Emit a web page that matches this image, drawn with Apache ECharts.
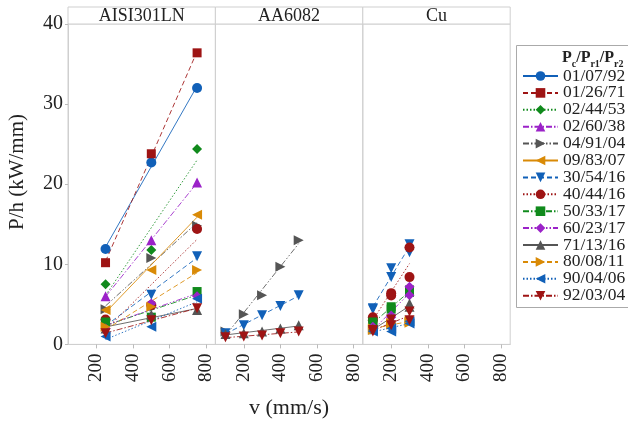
<!DOCTYPE html>
<html>
<head>
<meta charset="utf-8">
<script src="https://cdn.jsdelivr.net/npm/echarts@6/dist/echarts.min.js"></script>
<style>
  html, body { margin: 0; padding: 0; background: #fff; }
  #chart { width: 628px; height: 421px; }
</style>
</head>
<body>
<div id="chart"></div>
<script>
// panels (materials)
var materials = ['AISI301LN', 'AA6082', 'Cu'];
// legend entries Pc/Pr1/Pr2
var labels = ['01/07/92', '01/26/71', '02/44/53', '02/60/38', '04/91/04', '09/83/07', '30/54/16',
              '40/44/16', '50/33/17', '60/23/17', '71/13/16', '80/08/11', '90/04/06', '92/03/04'];

// speeds for each panel
var vAISI = [250, 500, 750];
var vAA = [100, 200, 300, 400, 500];
var vCu = [100, 100, 200, 200, 300, 300];

// P/h values, one row per legend entry (null = not measured)
var pAISI = [
  [11.9, 22.7, 32.0],
  [10.2, 23.8, 36.4],
  [7.5, 11.8, 24.4],
  [6.0, 13.0, 20.2],
  [4.4, 10.8, 14.8],
  [4.3, 9.3, 16.2],
  [2.5, 6.2, 11.0],
  [3.1, 4.9, 14.4],
  [2.8, 3.4, 6.6],
  [2.0, 5.1, 6.0],
  [2.0, 3.7, 4.3],
  [2.2, 4.7, 9.3],
  [1.0, 2.2, 5.7],
  [1.4, 3.0, 4.5]
];
var pAA = [
  null, null, null, null,
  [1.6, 3.75, 6.15, 9.7, 13.0],
  null,
  [1.4, 2.4, 3.65, 4.8, 6.15],
  null, null, null,
  [1.3, 1.4, 1.6, 2.0, 2.4],
  null, null,
  [0.9, 1.0, 1.1, 1.4, 1.6]
];
var pCu = [
  null, null, null, null, null, null,
  [4.4, 4.5, 9.5, 8.4, 12.5, 11.5],
  [3.4, 3.0, 6.4, 6.1, 12.1, 8.4],
  [2.6, 2.8, 4.7, 4.4, 6.8, 6.5],
  [2.0, 2.2, 3.6, 3.4, 7.2, 6.15],
  [1.9, 2.0, 3.0, 3.2, 5.1, 4.7],
  [1.8, 2.0, 2.7, 2.5, 2.9, 2.7],
  [1.6, 1.8, 1.6, 2.0, 2.9, 2.6],
  [1.8, 1.6, 3.1, 2.4, 4.1, 3.0]
];
var xTicks = [200, 400, 600, 800];

// styles cycle like the original plot
var palette = ['#1160b8', '#9e1414', '#108a1c', '#9b22c8', '#555555', '#d98a06'];
var dashes = ['solid', [5, 3], [1.5, 2], [6, 2, 1.5, 2], [6, 2, 1.5, 2, 1.5, 2]];
var symbols = ['circle', 'rect', 'diamond', 'triangle',
               'path://M0,0L2,1L0,2Z', 'path://M2,0L0,1L2,2Z', 'path://M0,0L2,0L1,2Z'];

var font = 'Liberation Serif';
var left0 = 68, panelW = 147.4, top0 = 24, plotH = 320.4;

var grids = [], xAxes = [], yAxes = [];
materials.forEach(function (m, k) {
  grids.push({ left: left0 + k * panelW, top: top0, width: panelW, height: plotH,
               show: true, borderColor: '#cfcfcf', borderWidth: 1 });
  xAxes.push({
    gridIndex: k, type: 'value', min: 45, max: 850,
    axisLine: { lineStyle: { color: '#cfcfcf' } },
    axisTick: { show: true, length: 4, lineStyle: { color: '#bbb' }, customValues: xTicks },
    axisLabel: { rotate: 90, margin: 9, fontFamily: font, fontSize: 19, color: '#222', customValues: xTicks },
    splitLine: { show: false }
  });
  yAxes.push({
    gridIndex: k, type: 'value', min: 0, max: 40, interval: 10,
    show: k === 0,
    axisLine: { show: true, lineStyle: { color: '#cfcfcf' } },
    axisTick: { show: true, length: 3, lineStyle: { color: '#bbb' } },
    axisLabel: { margin: 5, fontFamily: font, fontSize: 20, color: '#222' },
    splitLine: { show: false }
  });
});

// least squares fit over the measured speeds
function fit(xs, ys) {
  var n = xs.length, sx = 0, sy = 0, sxx = 0, sxy = 0;
  for (var i = 0; i < n; i++) { sx += xs[i]; sy += ys[i]; sxx += xs[i] * xs[i]; sxy += xs[i] * ys[i]; }
  var b = (n * sxy - sx * sy) / (n * sxx - sx * sx);
  var a = (sy - b * sx) / n;
  var x0 = Math.min.apply(null, xs), x1 = Math.max.apply(null, xs);
  return [[x0, a + b * x0], [x1, a + b * x1]];
}

var series = [];
// legend icons (line + marker)
labels.forEach(function (name, i) {
  series.push({
    type: 'line', name: name, xAxisIndex: 0, yAxisIndex: 0, data: [],
    symbol: symbols[i % 7], symbolSize: 9,
    itemStyle: { color: palette[i % 6] },
    lineStyle: { color: palette[i % 6], width: 1, type: dashes[i % 5] }
  });
});

var sets = [[vAISI, pAISI], [vAA, pAA], [vCu, pCu]];
sets.forEach(function (set, k) {
  var xs = set[0];
  set[1].forEach(function (ys, i) {
    if (!ys) return;
    series.push({
      type: 'line', name: labels[i], xAxisIndex: k, yAxisIndex: k, silent: true,
      data: fit(xs, ys), showSymbol: false, z: 2,
      lineStyle: { color: palette[i % 6], width: 1, type: dashes[i % 5], opacity: 0.85 }
    });
    series.push({
      type: 'scatter', name: labels[i], xAxisIndex: k, yAxisIndex: k, z: 3,
      data: xs.map(function (x, j) { return [x, ys[j]]; }),
      symbol: symbols[i % 7], symbolSize: (i % 7 === 1) ? 9 : 10,
      itemStyle: { color: palette[i % 6], opacity: 1 }
    });
  });
});

var graphics = [];
materials.forEach(function (m, k) {
  graphics.push({
    type: 'rect', shape: { x: left0 + k * panelW, y: 7, width: panelW, height: top0 - 7 },
    style: { fill: '#fff', stroke: '#cfcfcf', lineWidth: 1 }
  });
  graphics.push({
    type: 'text', x: left0 + k * panelW + panelW / 2, y: 16,
    style: { text: m, fontFamily: font, fontSize: 18, fill: '#222', align: 'center', verticalAlign: 'middle' }
  });
});
graphics.push({
  type: 'text', x: 17, y: 172, rotation: Math.PI / 2,
  style: { text: 'P/h (kW/mm)', fontFamily: font, fontSize: 21, fill: '#222', align: 'center', verticalAlign: 'middle' }
});
graphics.push({
  type: 'text', x: 289, y: 408,
  style: { text: 'v (mm/s)', fontFamily: font, fontSize: 22, fill: '#222', align: 'center', verticalAlign: 'middle' }
});
// legend frame and title
graphics.push({
  type: 'rect', z: -1, shape: { x: 516.5, y: 45.5, width: 120, height: 262 },
  style: { fill: '#fff', stroke: '#aaa', lineWidth: 1 }
});
graphics.push({
  type: 'text', x: 562, y: 47,
  style: {
    text: '{b|P}{s|c}{b|/P}{s|r1}{b|/P}{s|r2}',
    rich: {
      b: { fontFamily: font, fontSize: 16, fontWeight: 'bold', fill: '#222', lineHeight: 22, verticalAlign: 'middle' },
      s: { fontFamily: font, fontSize: 10, fontWeight: 'bold', fill: '#222', lineHeight: 11, verticalAlign: 'bottom' }
    }
  }
});

var chart = echarts.init(document.getElementById('chart'), null, { renderer: 'canvas' });
chart.setOption({
  animation: false,
  backgroundColor: '#fff',
  grid: grids,
  xAxis: xAxes,
  yAxis: yAxes,
  legend: {
    data: labels, orient: 'vertical', left: 522, top: 67, padding: 0,
    itemWidth: 35, itemHeight: 12, itemGap: -1.1, selectedMode: false,
    textStyle: { fontFamily: font, fontSize: 17.5, color: '#222', lineHeight: 16 }
  },
  graphic: graphics,
  series: series
});
</script>
</body>
</html>
